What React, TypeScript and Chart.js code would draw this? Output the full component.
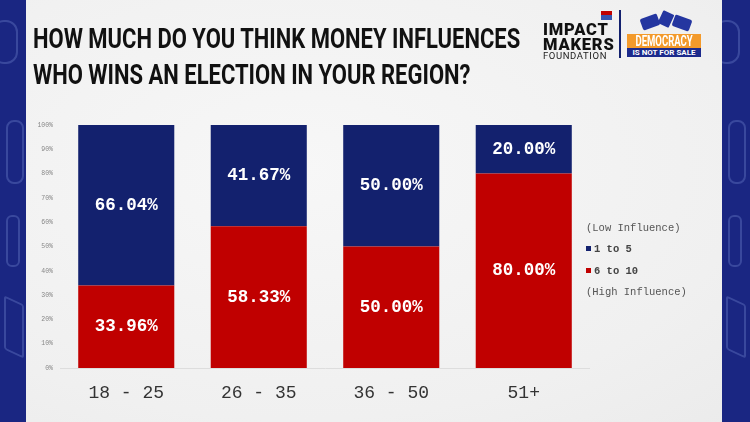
import React, { useEffect, useRef } from "react";
import { Chart, registerables } from "chart.js";

Chart.register(...registerables);

// age groups on the x axis
const categories = ["18 - 25", "26 - 35", "36 - 50", "51+"];
// share answering 1 to 5 (low influence)
const lowInfluence = [66.04, 41.67, 50.0, 20.0];
// share answering 6 to 10 (high influence)
const highInfluence = [33.96, 58.33, 50.0, 80.0];

const seriesNames = ["1 to 5", "6 to 10"];
const NAVY = "#13216e";
const RED = "#c00000";
const MONO = "'Liberation Mono', 'DejaVu Sans Mono', monospace";

// draws the value in the middle of each stacked segment
const segmentLabels = {
  id: "segmentLabels",
  afterDatasetsDraw(chart: any) {
    const ctx = chart.ctx;
    ctx.save();
    ctx.font = `bold 17.5px ${MONO}`;
    ctx.fillStyle = "#ffffff";
    ctx.textAlign = "center";
    ctx.textBaseline = "middle";
    chart.data.datasets.forEach((ds: any, i: number) => {
      const meta = chart.getDatasetMeta(i);
      meta.data.forEach((bar: any, j: number) => {
        const { x, y, base } = bar.getProps(["x", "y", "base"], true);
        ctx.fillText(Number(ds.data[j]).toFixed(2) + "%", x, (y + base) / 2);
      });
    });
    ctx.restore();
  },
};

function Logos() {
  return (
    <div style={{ position: "absolute", left: 540, top: 8, width: 170, height: 56 }}>
      {/* small flag above IMPACT */}
      <div style={{ position: "absolute", left: 61, top: 3, width: 11, height: 4, background: RED }} />
      <div style={{ position: "absolute", left: 61, top: 7, width: 11, height: 5, background: "#3554b0" }} />
      <div
        style={{
          position: "absolute",
          left: 3,
          top: 14,
          fontFamily: "Roboto, sans-serif",
          fontWeight: 900,
          fontSize: 16.5,
          lineHeight: "15px",
          color: "#111",
          letterSpacing: 0.8,
        }}
      >
        <div>IMPACT</div>
        <div>MAKERS</div>
      </div>
      <div
        style={{
          position: "absolute",
          left: 3,
          top: 42,
          fontFamily: "Roboto, sans-serif",
          fontWeight: 400,
          fontSize: 9.5,
          color: "#222",
          letterSpacing: 0.6,
        }}
      >
        FOUNDATION
      </div>
      <div style={{ position: "absolute", left: 79, top: 2, width: 2, height: 48, background: NAVY }} />
      {/* hands / ballot mark */}
      <div style={{ position: "absolute", left: 101, top: 8, width: 18, height: 12, background: "#2436a0", transform: "rotate(-20deg)", borderRadius: 2 }} />
      <div style={{ position: "absolute", left: 120, top: 4, width: 12, height: 14, background: "#2436a0", transform: "rotate(25deg)", borderRadius: 1 }} />
      <div style={{ position: "absolute", left: 133, top: 9, width: 18, height: 12, background: "#2436a0", transform: "rotate(20deg)", borderRadius: 2 }} />
      <div
        style={{
          position: "absolute",
          left: 87,
          top: 26,
          width: 74,
          height: 14,
          background: "#f39a2b",
          color: "#fff",
          fontFamily: "Roboto, sans-serif",
          fontWeight: 700,
          fontSize: 14,
          lineHeight: "14px",
          textAlign: "center",
          overflow: "hidden",
          whiteSpace: "nowrap",
        }}
      >
        <span style={{ display: "inline-block", transform: "scaleX(0.68)", transformOrigin: "center", margin: "0 -20px" }}>DEMOCRACY</span>
      </div>
      <div
        style={{
          position: "absolute",
          left: 87,
          top: 40,
          width: 74,
          height: 9,
          background: "#1c2a8c",
          color: "#fff",
          fontFamily: "Roboto, sans-serif",
          fontWeight: 700,
          fontSize: 8,
          lineHeight: "9px",
          textAlign: "center",
        }}
      >
        IS NOT FOR SALE
      </div>
    </div>
  );
}

function Legend() {
  const row = { position: "absolute" as const, left: 0, height: 14, lineHeight: "14px", whiteSpace: "nowrap" as const };
  const colors = [NAVY, RED];
  return (
    <div style={{ position: "absolute", left: 586, top: 221, fontFamily: MONO, fontSize: 10.5, color: "#555" }}>
      <div style={{ ...row, top: 0 }}>(Low Influence)</div>
      {seriesNames.map((name, i) => (
        <div key={name} style={{ ...row, top: 21 + i * 22, color: "#444", fontWeight: 700 }}>
          <span style={{ display: "inline-block", width: 5, height: 5, background: colors[i], marginRight: 3, verticalAlign: 1 }} />
          {name}
        </div>
      ))}
      <div style={{ ...row, top: 64 }}>(High Influence)</div>
    </div>
  );
}

function Border({ left }: { left: number }) {
  const line = "2px solid rgba(140,160,230,0.28)";
  return (
    <div style={{ position: "absolute", left, top: 0, width: left === 0 ? 26 : 28, height: 422, background: "#1a2682", overflow: "hidden" }}>
      <div style={{ position: "absolute", left: 6, top: 215, width: 10, height: 48, border: line, borderRadius: 6 }} />
      <div style={{ position: "absolute", left: -8, top: 20, width: 22, height: 40, border: line, borderRadius: 12 }} />
      <div style={{ position: "absolute", left: 4, top: 300, width: 16, height: 50, border: line, borderRadius: 3, transform: "skewY(25deg)" }} />
      <div style={{ position: "absolute", left: 6, top: 120, width: 14, height: 60, border: line, borderRadius: 8 }} />
    </div>
  );
}

export default function App() {
  const canvasRef = useRef<HTMLCanvasElement | null>(null);

  useEffect(() => {
    if (!canvasRef.current) return;
    const chart = new Chart(canvasRef.current, {
      type: "bar",
      data: {
        labels: categories,
        datasets: [
          { label: seriesNames[1], data: highInfluence, backgroundColor: RED, barPercentage: 0.725, categoryPercentage: 1 },
          { label: seriesNames[0], data: lowInfluence, backgroundColor: NAVY, barPercentage: 0.725, categoryPercentage: 1 },
        ],
      },
      options: {
        animation: false,
        responsive: false,
        maintainAspectRatio: false,
        layout: { padding: { top: 15, right: 0, left: 0, bottom: 0 } },
        plugins: { legend: { display: false }, tooltip: { enabled: false } },
        scales: {
          x: {
            stacked: true,
            grid: { display: false, drawTicks: false },
            border: { display: true, color: "#dddddd", width: 1 },
            ticks: { color: "#333", padding: 14, font: { family: MONO, size: 18 } },
            afterFit: (s: any) => {
              s.height = 42;
            },
          },
          y: {
            stacked: true,
            min: 0,
            max: 100,
            grid: { display: false, drawTicks: false },
            border: { display: false },
            ticks: {
              stepSize: 10,
              color: "#888",
              padding: 7,
              font: { family: MONO, size: 6.5 },
              callback: (v: any) => v + "%",
            },
            afterFit: (s: any) => {
              s.width = 38;
            },
          },
        },
      },
      plugins: [segmentLabels],
    });
    return () => chart.destroy();
  }, []);

  return (
    <div
      style={{
        position: "fixed",
        left: 0,
        top: 0,
        width: 750,
        height: 422,
        overflow: "hidden",
        background: "radial-gradient(ellipse at 40% 40%, #f7f7f7 0%, #f0f0f0 70%, #ebebeb 100%)",
      }}
    >
      <Border left={0} />
      <Border left={722} />
      <div
        style={{
          position: "absolute",
          left: 33,
          top: 21,
          fontFamily: "Roboto, sans-serif",
          fontWeight: 700,
          fontSize: 28,
          lineHeight: "36px",
          color: "#111",
          whiteSpace: "nowrap",
          transform: "scaleX(0.785)",
          transformOrigin: "left top",
        }}
      >
        <div>HOW MUCH DO YOU THINK MONEY INFLUENCES</div>
        <div>WHO WINS AN ELECTION IN YOUR REGION?</div>
      </div>
      <Logos />
      <div style={{ position: "absolute", left: 22, top: 110, width: 568, height: 300 }}>
        <canvas ref={canvasRef} width={568} height={300} />
      </div>
      <Legend />
    </div>
  );
}
